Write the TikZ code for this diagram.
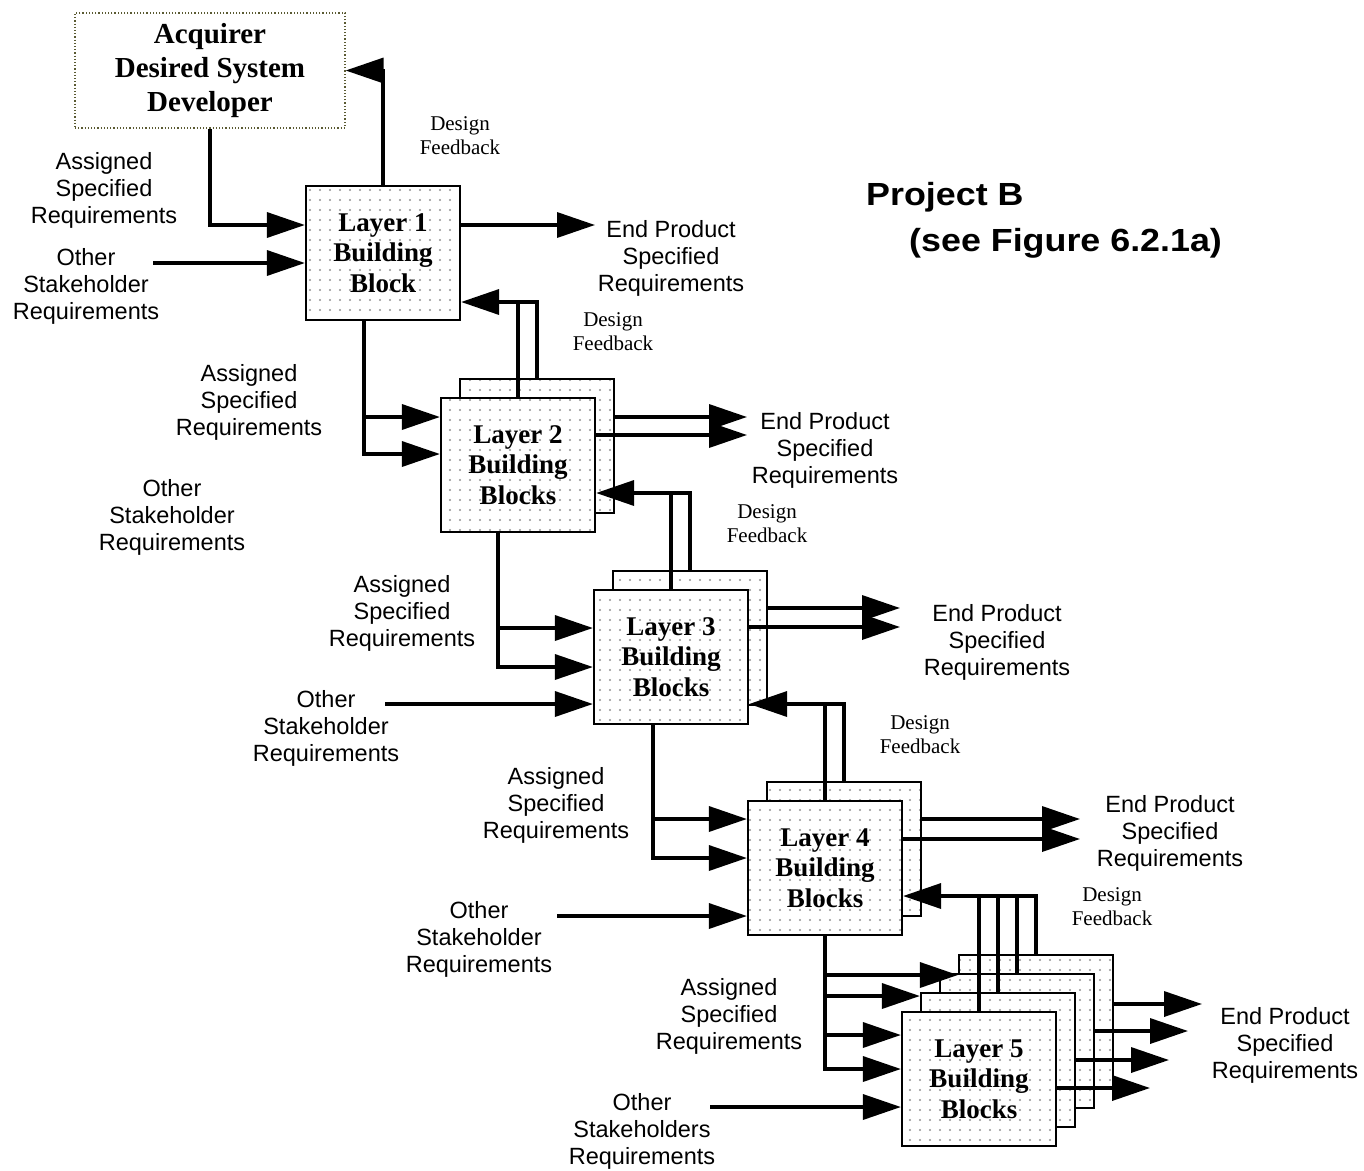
\documentclass[tikz,border=0pt]{standalone}
\usepackage{fontspec}
\setmainfont{Liberation Serif}
\setsansfont{Liberation Sans}
\newfontfamily\ttlfont{Liberation Sans Bold}[FakeStretch=1.12]
\usetikzlibrary{arrows.meta,patterns.meta}
\begin{document}
\begin{tikzpicture}[x=1pt,y=-1pt,
  blk/.style={draw, line width=2.2pt, minimum width=154pt, minimum height=134pt,
    inner sep=0pt, preaction={fill=white},
    pattern={Dots[radius=1.15pt,distance=10pt]}, pattern color=black!42,
    align=center, font=\bfseries\fontsize{27}{30.5}\selectfont},
  acqbox/.style={draw={rgb,255:red,90;green,90;blue,50}, line width=1.2pt,
    dash pattern=on 1.2pt off 2pt, minimum width=270pt, minimum height=115pt,
    inner sep=0pt, align=center, font=\bfseries\fontsize{29}{34}\selectfont},
  ln/.style={line width=3.5pt},
  arr/.style={line width=3.5pt, -{Triangle[length=38pt,width=25pt]}},
  lab/.style={font=\sffamily\fontsize{23.5}{27}\selectfont, align=center, inner sep=0pt},
  df/.style={font=\fontsize{21}{24}\selectfont, align=center, inner sep=0pt},
  ttl/.style={font=\ttlfont\fontsize{32}{46}\selectfont, align=left, inner sep=0pt}
]
\fill[white] (0,0) rectangle (1364,1170);
\useasboundingbox (0,0) rectangle (1364,1170);

% boxes
\node[acqbox] (acq) at (210,70.5) {Acquirer\\Desired System\\Developer};
\node[blk] (L1) at (383,253) {Layer 1\\Building\\Block};
\node[blk] (L2b) at (537,446) {};
\node[blk] (L2a) at (518,465) {Layer 2\\Building\\Blocks};
\node[blk] (L3b) at (690,638) {};
\node[blk] (L3a) at (671,657) {Layer 3\\Building\\Blocks};
\node[blk] (L4b) at (844,849) {};
\node[blk] (L4a) at (825,868) {Layer 4\\Building\\Blocks};
\node[blk] (L5d) at (1036,1022) {};
\node[blk] (L5c) at (1017,1041) {};
\node[blk] (L5b) at (998,1060) {};
\node[blk] (L5a) at (979,1079) {Layer 5\\Building\\Blocks};

% labels
\node[lab] (as1) at (104,190) {Assigned\\Specified\\Requirements};
\node[lab] (ot1) at (86,286) {Other\\Stakeholder\\Requirements};
\node[lab] (ep1) at (671,258) {End Product\\Specified\\Requirements};
\node[df] (df1) at (460,136) {Design\\Feedback};
\node[df] (df2) at (613,332) {Design\\Feedback};
\node[lab] (as2) at (249,402) {Assigned\\Specified\\Requirements};
\node[lab] (ot2) at (172,517) {Other\\Stakeholder\\Requirements};
\node[lab] (ep2) at (825,450) {End Product\\Specified\\Requirements};
\node[df] (df3) at (767,524) {Design\\Feedback};
\node[lab] (as3) at (402,613) {Assigned\\Specified\\Requirements};
\node[lab] (ep3) at (997,642) {End Product\\Specified\\Requirements};
\node[lab] (ot3) at (326,728) {Other\\Stakeholder\\Requirements};
\node[df] (df4) at (920,735) {Design\\Feedback};
\node[lab] (as4) at (556,805) {Assigned\\Specified\\Requirements};
\node[lab] (ep4) at (1170,833) {End Product\\Specified\\Requirements};
\node[lab] (ot4) at (479,939) {Other\\Stakeholder\\Requirements};
\node[df] (df5) at (1112,907) {Design\\Feedback};
\node[lab] (as5) at (729,1016) {Assigned\\Specified\\Requirements};
\node[lab] (ep5) at (1285,1045) {End Product\\Specified\\Requirements};
\node[lab] (ot5) at (642,1131) {Other\\Stakeholders\\Requirements};
\node[ttl, anchor=north west] (proj) at (866,182) {Project B\\\hspace*{43pt}(see Figure 6.2.1a)};

% free ends
\coordinate (o1) at (153,263);
\coordinate (o3) at (385,704);
\coordinate (o4) at (557,916);
\coordinate (o5) at (710,1107);
\coordinate (t1) at (595,225);
\coordinate (t2b) at (747,417);
\coordinate (t2a) at (747,435);
\coordinate (t3b) at (900,608);
\coordinate (t3a) at (900,627);
\coordinate (t4b) at (1080,819);
\coordinate (t4a) at (1080,839);
\coordinate (t5d) at (1202,1004);
\coordinate (t5c) at (1188,1031);
\coordinate (t5b) at (1169,1060);
\coordinate (t5a) at (1150,1088);

% feedback corners
\coordinate (f2) at ([yshift=-49pt]L1.east);
\coordinate (f3) at ([yshift=-28pt]L2a.east);
\coordinate (f4) at ([yshift=-47pt]L3a.east);
\coordinate (f5) at ([yshift=-28pt]L4a.east);

% layer 1
\draw[arr] (acq.south) |- ([yshift=28pt]L1.west);
\draw[arr] (o1) -- ([yshift=-10pt]L1.west);
\draw[arr] (L1.north) |- (acq.east);
\draw[arr] ([yshift=28pt]L1.east) -- (t1);

% layer 2
\coordinate (d2) at ([xshift=-19pt]L1.south);
\draw[arr] (d2) |- ([yshift=48pt]L2a.west);
\draw[arr] (d2) |- ([yshift=11pt]L2a.west);
\draw[arr] (L2b.north) |- (f2);
\draw[ln] (L2a.north) -- (L2a.north |- f2);
\draw[arr] ([yshift=29pt]L2b.east) -- (t2b);
\draw[arr] ([yshift=30pt]L2a.east) -- (t2a);

% layer 3
\coordinate (d3) at ([xshift=-20pt]L2a.south);
\draw[arr] (d3) |- ([yshift=29pt]L3a.west);
\draw[arr] (d3) |- ([yshift=-10pt]L3a.west);
\draw[arr] (o3) -- ([yshift=-47pt]L3a.west);
\draw[arr] (L3b.north) |- (f3);
\draw[ln] (L3a.north) -- (L3a.north |- f3);
\draw[arr] ([yshift=30pt]L3b.east) -- (t3b);
\draw[arr] ([yshift=30pt]L3a.east) -- (t3a);

% layer 4
\coordinate (d4) at ([xshift=-18pt]L3a.south);
\draw[arr] (d4) |- ([yshift=49pt]L4a.west);
\draw[arr] (d4) |- ([yshift=10pt]L4a.west);
\draw[arr] (o4) -- ([yshift=-48pt]L4a.west);
\draw[arr] (L4b.north) |- (f4);
\draw[ln] (L4a.north) -- (L4a.north |- f4);
\draw[arr] ([yshift=30pt]L4b.east) -- (t4b);
\draw[arr] ([yshift=29pt]L4a.east) -- (t4a);

% layer 5
\coordinate (d5) at (L4a.south);
\draw[arr] (d5) |- ([yshift=47pt]L5d.west);
\draw[arr] (d5) |- ([yshift=64pt]L5b.west);
\draw[arr] (d5) |- ([yshift=44pt]L5a.west);
\draw[arr] (d5) |- ([yshift=10pt]L5a.west);
\draw[arr] (o5) -- ([yshift=-28pt]L5a.west);
\draw[arr] (L5d.north) |- (f5);
\draw[ln] (L5c.north) -- (L5c.north |- f5);
\draw[ln] (L5b.north) -- (L5b.north |- f5);
\draw[ln] (L5a.north) -- (L5a.north |- f5);
\draw[arr] ([yshift=18pt]L5d.east) -- (t5d);
\draw[arr] ([yshift=10pt]L5c.east) -- (t5c);
\draw[arr] (L5b.east) -- (t5b);
\draw[arr] ([yshift=-9pt]L5a.east) -- (t5a);
\end{tikzpicture}
\end{document}
